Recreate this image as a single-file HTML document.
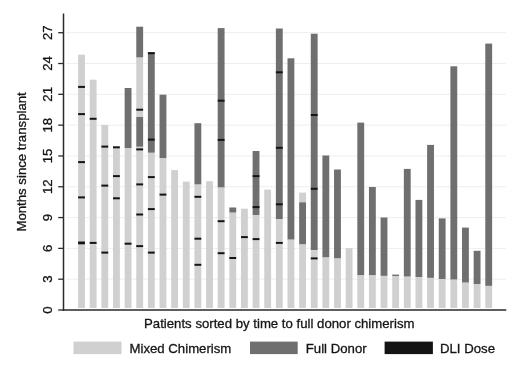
<!DOCTYPE html>
<html><head><meta charset="utf-8"><style>
html,body{margin:0;padding:0;background:#fff;}
body{width:520px;height:378px;overflow:hidden;}
svg{display:block;will-change:transform;}
text{font-family:"Liberation Sans",sans-serif;font-size:13.2px;fill:#151515;stroke:#151515;stroke-width:0.3px;}
</style></head><body>
<svg width="520" height="378" viewBox="0 0 520 378">
<line x1="66" x2="506" y1="279.19" y2="279.19" stroke="#eeeeee" stroke-width="1"/>
<line x1="66" x2="506" y1="248.38" y2="248.38" stroke="#eeeeee" stroke-width="1"/>
<line x1="66" x2="506" y1="217.57" y2="217.57" stroke="#eeeeee" stroke-width="1"/>
<line x1="66" x2="506" y1="186.76" y2="186.76" stroke="#eeeeee" stroke-width="1"/>
<line x1="66" x2="506" y1="155.95" y2="155.95" stroke="#eeeeee" stroke-width="1"/>
<line x1="66" x2="506" y1="125.14" y2="125.14" stroke="#eeeeee" stroke-width="1"/>
<line x1="66" x2="506" y1="94.33" y2="94.33" stroke="#eeeeee" stroke-width="1"/>
<line x1="66" x2="506" y1="63.52" y2="63.52" stroke="#eeeeee" stroke-width="1"/>
<line x1="66" x2="506" y1="32.71" y2="32.71" stroke="#eeeeee" stroke-width="1"/>
<rect x="78.1" y="54.7" width="6.85" height="253.3" fill="#d0d0d0"/>
<rect x="78.1" y="85.9" width="6.85" height="2" fill="#141414"/>
<rect x="78.1" y="113.1" width="6.85" height="2" fill="#141414"/>
<rect x="78.1" y="161.1" width="6.85" height="2" fill="#141414"/>
<rect x="78.1" y="196.4" width="6.85" height="2" fill="#141414"/>
<rect x="78.1" y="241.5" width="6.85" height="2.8" fill="#141414"/>
<rect x="89.73" y="79.7" width="6.85" height="228.3" fill="#d0d0d0"/>
<rect x="89.73" y="117.8" width="6.85" height="2" fill="#141414"/>
<rect x="89.73" y="241.9" width="6.85" height="2" fill="#141414"/>
<rect x="101.37" y="125" width="6.85" height="183" fill="#d0d0d0"/>
<rect x="101.37" y="145.6" width="6.85" height="2" fill="#141414"/>
<rect x="101.37" y="184.6" width="6.85" height="2" fill="#141414"/>
<rect x="101.37" y="251.6" width="6.85" height="2" fill="#141414"/>
<rect x="113" y="147" width="6.85" height="161" fill="#d0d0d0"/>
<rect x="113" y="146.3" width="6.85" height="2" fill="#141414"/>
<rect x="113" y="175.1" width="6.85" height="2" fill="#141414"/>
<rect x="113" y="197.3" width="6.85" height="2" fill="#141414"/>
<rect x="124.64" y="88" width="6.85" height="60.3" fill="#6f6f6f"/>
<rect x="124.64" y="148.3" width="6.85" height="159.7" fill="#d0d0d0"/>
<rect x="124.64" y="242.7" width="6.85" height="2" fill="#141414"/>
<rect x="136.27" y="26.7" width="6.85" height="30.9" fill="#6f6f6f"/>
<rect x="136.27" y="57.6" width="6.85" height="59.4" fill="#d0d0d0"/>
<rect x="136.27" y="117" width="6.85" height="29.8" fill="#6f6f6f"/>
<rect x="136.27" y="146.8" width="6.85" height="161.2" fill="#d0d0d0"/>
<rect x="136.27" y="108.7" width="6.85" height="2" fill="#141414"/>
<rect x="136.27" y="148.4" width="6.85" height="2" fill="#141414"/>
<rect x="136.27" y="183.4" width="6.85" height="2" fill="#141414"/>
<rect x="136.27" y="213.5" width="6.85" height="2" fill="#141414"/>
<rect x="136.27" y="245.1" width="6.85" height="2" fill="#141414"/>
<rect x="147.9" y="52.2" width="6.85" height="100.6" fill="#6f6f6f"/>
<rect x="147.9" y="152.8" width="6.85" height="155.2" fill="#d0d0d0"/>
<rect x="147.9" y="52.2" width="6.85" height="2" fill="#141414"/>
<rect x="147.9" y="138.6" width="6.85" height="2" fill="#141414"/>
<rect x="147.9" y="176.1" width="6.85" height="2" fill="#141414"/>
<rect x="147.9" y="208.1" width="6.85" height="2" fill="#141414"/>
<rect x="147.9" y="251.6" width="6.85" height="2" fill="#141414"/>
<rect x="159.54" y="94.7" width="6.85" height="63.3" fill="#6f6f6f"/>
<rect x="159.54" y="158" width="6.85" height="150" fill="#d0d0d0"/>
<rect x="159.54" y="193.6" width="6.85" height="2" fill="#141414"/>
<rect x="171.17" y="170.1" width="6.85" height="137.9" fill="#d0d0d0"/>
<rect x="182.81" y="181.6" width="6.85" height="126.4" fill="#d0d0d0"/>
<rect x="194.44" y="123.2" width="6.85" height="61.4" fill="#6f6f6f"/>
<rect x="194.44" y="184.6" width="6.85" height="123.4" fill="#d0d0d0"/>
<rect x="194.44" y="195.8" width="6.85" height="2" fill="#141414"/>
<rect x="194.44" y="237.7" width="6.85" height="2" fill="#141414"/>
<rect x="194.44" y="263.8" width="6.85" height="2" fill="#141414"/>
<rect x="206.07" y="181.2" width="6.85" height="126.8" fill="#d0d0d0"/>
<rect x="217.71" y="28.1" width="6.85" height="159.5" fill="#6f6f6f"/>
<rect x="217.71" y="187.6" width="6.85" height="120.4" fill="#d0d0d0"/>
<rect x="217.71" y="99.7" width="6.85" height="2" fill="#141414"/>
<rect x="217.71" y="138.9" width="6.85" height="2" fill="#141414"/>
<rect x="217.71" y="220.2" width="6.85" height="2" fill="#141414"/>
<rect x="217.71" y="252.2" width="6.85" height="2" fill="#141414"/>
<rect x="229.34" y="207.5" width="6.85" height="5.2" fill="#6f6f6f"/>
<rect x="229.34" y="212.7" width="6.85" height="95.3" fill="#d0d0d0"/>
<rect x="229.34" y="257" width="6.85" height="2" fill="#141414"/>
<rect x="240.98" y="208.7" width="6.85" height="99.3" fill="#d0d0d0"/>
<rect x="240.98" y="236.1" width="6.85" height="2" fill="#141414"/>
<rect x="252.61" y="151" width="6.85" height="64.3" fill="#6f6f6f"/>
<rect x="252.61" y="215.3" width="6.85" height="92.7" fill="#d0d0d0"/>
<rect x="252.61" y="175.1" width="6.85" height="2" fill="#141414"/>
<rect x="252.61" y="206.1" width="6.85" height="2" fill="#141414"/>
<rect x="252.61" y="238.1" width="6.85" height="2" fill="#141414"/>
<rect x="264.24" y="189.6" width="6.85" height="118.4" fill="#d0d0d0"/>
<rect x="275.88" y="28.5" width="6.85" height="190.5" fill="#6f6f6f"/>
<rect x="275.88" y="219" width="6.85" height="89" fill="#d0d0d0"/>
<rect x="275.88" y="71.3" width="6.85" height="2" fill="#141414"/>
<rect x="275.88" y="146.8" width="6.85" height="2" fill="#141414"/>
<rect x="275.88" y="203.3" width="6.85" height="2" fill="#141414"/>
<rect x="275.88" y="241.9" width="6.85" height="2" fill="#141414"/>
<rect x="287.51" y="58.3" width="6.85" height="181.4" fill="#6f6f6f"/>
<rect x="287.51" y="239.7" width="6.85" height="68.3" fill="#d0d0d0"/>
<rect x="299.15" y="192.6" width="6.85" height="9.7" fill="#d0d0d0"/>
<rect x="299.15" y="202.3" width="6.85" height="42.2" fill="#6f6f6f"/>
<rect x="299.15" y="244.5" width="6.85" height="63.5" fill="#d0d0d0"/>
<rect x="310.78" y="33.7" width="6.85" height="216.5" fill="#6f6f6f"/>
<rect x="310.78" y="250.2" width="6.85" height="57.8" fill="#d0d0d0"/>
<rect x="310.78" y="114" width="6.85" height="2" fill="#141414"/>
<rect x="310.78" y="187.8" width="6.85" height="2" fill="#141414"/>
<rect x="310.78" y="257.4" width="6.85" height="2" fill="#141414"/>
<rect x="322.41" y="155.5" width="6.85" height="102" fill="#6f6f6f"/>
<rect x="322.41" y="257.5" width="6.85" height="50.5" fill="#d0d0d0"/>
<rect x="334.05" y="169.5" width="6.85" height="89" fill="#6f6f6f"/>
<rect x="334.05" y="258.5" width="6.85" height="49.5" fill="#d0d0d0"/>
<rect x="345.68" y="248.1" width="6.85" height="59.9" fill="#d0d0d0"/>
<rect x="357.32" y="122.6" width="6.85" height="152.8" fill="#6f6f6f"/>
<rect x="357.32" y="275.4" width="6.85" height="32.6" fill="#d0d0d0"/>
<rect x="368.95" y="187" width="6.85" height="88.4" fill="#6f6f6f"/>
<rect x="368.95" y="275.4" width="6.85" height="32.6" fill="#d0d0d0"/>
<rect x="380.58" y="217.5" width="6.85" height="58.4" fill="#6f6f6f"/>
<rect x="380.58" y="275.9" width="6.85" height="32.1" fill="#d0d0d0"/>
<rect x="392.22" y="274.6" width="6.85" height="1.4" fill="#6f6f6f"/>
<rect x="392.22" y="276" width="6.85" height="32" fill="#d0d0d0"/>
<rect x="403.85" y="168.9" width="6.85" height="107.8" fill="#6f6f6f"/>
<rect x="403.85" y="276.7" width="6.85" height="31.3" fill="#d0d0d0"/>
<rect x="415.49" y="199.9" width="6.85" height="77.2" fill="#6f6f6f"/>
<rect x="415.49" y="277.1" width="6.85" height="30.9" fill="#d0d0d0"/>
<rect x="427.12" y="144.9" width="6.85" height="133" fill="#6f6f6f"/>
<rect x="427.12" y="277.9" width="6.85" height="30.1" fill="#d0d0d0"/>
<rect x="438.75" y="218.4" width="6.85" height="60.7" fill="#6f6f6f"/>
<rect x="438.75" y="279.1" width="6.85" height="28.9" fill="#d0d0d0"/>
<rect x="450.39" y="66.3" width="6.85" height="213.4" fill="#6f6f6f"/>
<rect x="450.39" y="279.7" width="6.85" height="28.3" fill="#d0d0d0"/>
<rect x="462.02" y="227.6" width="6.85" height="55.1" fill="#6f6f6f"/>
<rect x="462.02" y="282.7" width="6.85" height="25.3" fill="#d0d0d0"/>
<rect x="473.66" y="250.8" width="6.85" height="33.5" fill="#6f6f6f"/>
<rect x="473.66" y="284.3" width="6.85" height="23.7" fill="#d0d0d0"/>
<rect x="485.29" y="43.6" width="6.85" height="242.3" fill="#6f6f6f"/>
<rect x="485.29" y="285.9" width="6.85" height="22.1" fill="#d0d0d0"/>
<line x1="63.5" x2="63.5" y1="13.6" y2="311" stroke="#2a2a2a" stroke-width="1.5"/>
<line x1="62.8" x2="506.3" y1="310" y2="310" stroke="#2a2a2a" stroke-width="1.5"/>
<line x1="58.2" x2="63.5" y1="310" y2="310" stroke="#2a2a2a" stroke-width="1.3"/>
<text transform="translate(52.3 310) rotate(-90)" text-anchor="middle">0</text>
<line x1="58.2" x2="63.5" y1="279.19" y2="279.19" stroke="#2a2a2a" stroke-width="1.3"/>
<text transform="translate(52.3 279.19) rotate(-90)" text-anchor="middle">3</text>
<line x1="58.2" x2="63.5" y1="248.38" y2="248.38" stroke="#2a2a2a" stroke-width="1.3"/>
<text transform="translate(52.3 248.38) rotate(-90)" text-anchor="middle">6</text>
<line x1="58.2" x2="63.5" y1="217.57" y2="217.57" stroke="#2a2a2a" stroke-width="1.3"/>
<text transform="translate(52.3 217.57) rotate(-90)" text-anchor="middle">9</text>
<line x1="58.2" x2="63.5" y1="186.76" y2="186.76" stroke="#2a2a2a" stroke-width="1.3"/>
<text transform="translate(52.3 186.76) rotate(-90)" text-anchor="middle">12</text>
<line x1="58.2" x2="63.5" y1="155.95" y2="155.95" stroke="#2a2a2a" stroke-width="1.3"/>
<text transform="translate(52.3 155.95) rotate(-90)" text-anchor="middle">15</text>
<line x1="58.2" x2="63.5" y1="125.14" y2="125.14" stroke="#2a2a2a" stroke-width="1.3"/>
<text transform="translate(52.3 125.14) rotate(-90)" text-anchor="middle">18</text>
<line x1="58.2" x2="63.5" y1="94.33" y2="94.33" stroke="#2a2a2a" stroke-width="1.3"/>
<text transform="translate(52.3 94.33) rotate(-90)" text-anchor="middle">21</text>
<line x1="58.2" x2="63.5" y1="63.52" y2="63.52" stroke="#2a2a2a" stroke-width="1.3"/>
<text transform="translate(52.3 63.52) rotate(-90)" text-anchor="middle">24</text>
<line x1="58.2" x2="63.5" y1="32.71" y2="32.71" stroke="#2a2a2a" stroke-width="1.3"/>
<text transform="translate(52.3 32.71) rotate(-90)" text-anchor="middle">27</text>
<text transform="translate(25.8 161.9) rotate(-90)" text-anchor="middle">Months since transplant</text>
<text x="279.3" y="327.8" text-anchor="middle">Patients sorted by time to full donor chimerism</text>
<rect x="73.5" y="341.6" width="48" height="12.5" fill="#d0d0d0"/>
<text x="129.5" y="353.2">Mixed Chimerism</text>
<rect x="250" y="341.6" width="47.7" height="12.5" fill="#6f6f6f"/>
<text x="305.8" y="353.2">Full Donor</text>
<rect x="384.6" y="341.6" width="48.3" height="12.5" fill="#141414"/>
<text x="440" y="353.2">DLI Dose</text>
</svg>
</body></html>
